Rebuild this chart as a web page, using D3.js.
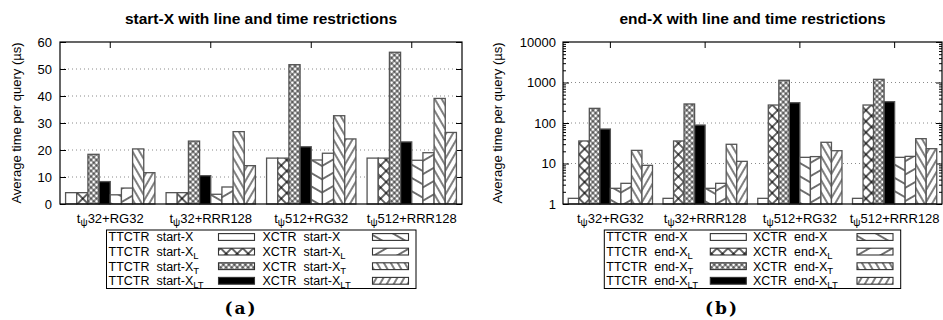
<!DOCTYPE html>
<html>
<head>
<meta charset="utf-8">
<script src="https://cdn.jsdelivr.net/npm/d3@7"></script>
<style>
  body { margin: 0; background: #fff; }
  svg { display: block; font-family: "Liberation Sans", Arial, Helvetica, sans-serif; }
</style>
</head>
<body>
<svg id="chart" width="943" height="320"></svg>
<script>
// Query configurations (x groups); the character after "t" is set as a subscript
const categories = ["tψ32+RG32", "tψ32+RRR128", "tψ512+RG32", "tψ512+RRR128"];

// Series names; text after "_" is set as a subscript
const startSeries = [
  "TTCTR  start-X", "TTCTR  start-X_L", "TTCTR  start-X_T", "TTCTR  start-X_LT",
  "XCTR  start-X", "XCTR  start-X_L", "XCTR  start-X_T", "XCTR  start-X_LT"
];
const endSeries = [
  "TTCTR  end-X", "TTCTR  end-X_L", "TTCTR  end-X_T", "TTCTR  end-X_LT",
  "XCTR  end-X", "XCTR  end-X_L", "XCTR  end-X_T", "XCTR  end-X_LT"
];

// Average time per query (µs), one array per series, one value per category
const startTTCTR   = [4.2, 4.2, 17.0, 17.0];
const startTTCTR_L = [4.2, 4.2, 17.0, 17.0];
const startTTCTR_T = [18.4, 23.3, 51.6, 56.2];
const startTTCTR_LT = [8.3, 10.5, 21.2, 23.0];
const startXCTR    = [3.4, 3.6, 16.3, 16.2];
const startXCTR_L  = [5.9, 6.3, 18.8, 19.0];
const startXCTR_T  = [20.4, 26.8, 32.7, 39.1];
const startXCTR_LT = [11.6, 14.2, 24.1, 26.5];

const endTTCTR    = [1.38, 1.38, 1.38, 1.38];
const endTTCTR_L  = [36, 36, 278, 278];
const endTTCTR_T  = [230, 295, 1133, 1198];
const endTTCTR_LT = [71, 89, 317, 336];
const endXCTR     = [2.44, 2.44, 14.2, 14.2];
const endXCTR_L   = [3.24, 3.24, 14.8, 15.0];
const endXCTR_T   = [21.1, 29.8, 33.4, 41.0];
const endXCTR_LT  = [9.0, 11.3, 20.7, 23.2];

const startValues = [startTTCTR, startTTCTR_L, startTTCTR_T, startTTCTR_LT,
                     startXCTR, startXCTR_L, startXCTR_T, startXCTR_LT];
const endValues = [endTTCTR, endTTCTR_L, endTTCTR_T, endTTCTR_LT,
                   endXCTR, endXCTR_L, endXCTR_T, endXCTR_LT];

// Axis ticks
const startTicks = [0, 10, 20, 30, 40, 50, 60];
const endTicks = [1, 10, 100, 1000, 10000];

const svg = d3.select("#chart");
const defs = svg.append("defs");

// Hatch fills: stripes (or cross-hatch) of a given spacing, rotated
function hatch(id, spacing, angle, cross, sw) {
  const p = defs.append("pattern")
    .attr("id", id)
    .attr("patternUnits", "userSpaceOnUse")
    .attr("width", spacing).attr("height", spacing)
    .attr("patternTransform", `rotate(${angle})`);
  p.append("rect").attr("width", spacing).attr("height", spacing).attr("fill", "#fff");
  p.append("path").attr("d", `M0,${spacing / 2}H${spacing}`)
    .attr("stroke", "#000").attr("stroke-width", sw);
  if (cross) {
    p.append("path").attr("d", `M${spacing / 2},0V${spacing}`)
      .attr("stroke", "#000").attr("stroke-width", sw);
  }
}
hatch("pat1", 7.8, 45, true, 1.2);
hatch("pat2", 3.9, 45, true, 0.8);
hatch("pat4", 11.5, 30, false, 1.1);
hatch("pat5", 11.5, -30, false, 1.1);
hatch("pat6", 6.0, 60, false, 1.0);
hatch("pat7", 6.0, -60, false, 1.0);

const fills = ["#fff", "url(#pat1)", "url(#pat2)", "#000",
               "url(#pat4)", "url(#pat5)", "url(#pat6)", "url(#pat7)"];

function richText(sel, str, subSize, subDy) {
  // splits "main_sub" into a baseline part and a subscript part
  const [main, sub] = str.split("_");
  sel.append("tspan").text(main);
  if (sub) sel.append("tspan").attr("font-size", subSize).attr("dy", subDy).text(sub);
}

function panel(cfg) {
  const g = svg.append("g");
  const { left, right, top, bottom } = cfg;

  const x0 = d3.scaleBand().domain(categories).range([left, right])
    .paddingInner(1 / 9).paddingOuter(1 / 18);
  const x1 = d3.scaleBand().domain(d3.range(cfg.series.length)).range([0, x0.bandwidth()]);
  const y = cfg.log
    ? d3.scaleLog().domain([endTicks[0], endTicks[endTicks.length - 1]]).range([bottom, top])
    : d3.scaleLinear().domain([startTicks[0], startTicks[startTicks.length - 1]]).range([bottom, top]);
  const base = y.domain()[0];

  // dotted grid
  g.append("g").selectAll("line")
    .data(cfg.ticks.slice(1, -1))
    .join("line")
    .attr("x1", left).attr("x2", right)
    .attr("y1", d => y(d)).attr("y2", d => y(d))
    .attr("stroke", "#8a8a8a").attr("stroke-width", 1)
    .attr("stroke-dasharray", "1,3");

  // y axis, inward ticks
  let tickVals = cfg.ticks;
  if (cfg.log) {
    tickVals = [];
    cfg.ticks.forEach((t, i) => {
      tickVals.push(t);
      if (i < cfg.ticks.length - 1) for (let k = 2; k <= 9; k++) tickVals.push(t * k);
    });
  }
  const isMajor = d => cfg.ticks.includes(d);
  const yAxisL = d3.axisLeft(y).tickValues(tickVals).tickSize(-6).tickPadding(cfg.labelPad)
    .tickFormat(d => isMajor(d) ? String(d) : "");
  const gl = g.append("g").attr("transform", `translate(${left},0)`).call(yAxisL);
  const yAxisR = d3.axisRight(y).tickValues(tickVals).tickSize(-6).tickFormat("");
  const gr = g.append("g").attr("transform", `translate(${right},0)`).call(yAxisR);
  [gl, gr].forEach(a => {
    a.select(".domain").remove();
    a.selectAll(".tick line").attr("stroke", "#000")
      .filter(d => !isMajor(d)).attr("x2", function () { return +d3.select(this).attr("x2") / 2; });
    a.selectAll("text").attr("font-size", 13).attr("fill", "#000")
      .attr("font-family", "Liberation Sans, Arial, sans-serif");
  });

  // x axes: mirrored inward ticks at group centres
  const xTop = d3.axisTop(x0).tickSize(-6).tickFormat("");
  const gt = g.append("g").attr("transform", `translate(0,${top})`).call(xTop);
  gt.select(".domain").remove();
  gt.selectAll(".tick line").attr("stroke", "#000");
  const xBot = d3.axisBottom(x0).tickSize(-6).tickFormat("");
  const gb = g.append("g").attr("transform", `translate(0,${bottom})`).call(xBot);
  gb.select(".domain").remove();
  gb.selectAll(".tick line").attr("stroke", "#000");

  // group labels with subscript ψ
  g.append("g").selectAll("text")
    .data(categories)
    .join("text")
    .attr("x", d => x0(d) + x0.bandwidth() / 2)
    .attr("y", bottom + 19)
    .attr("text-anchor", "middle")
    .attr("font-size", 13)
    .each(function (d) {
      const t = d3.select(this);
      t.append("tspan").text(d.slice(0, 1));
      t.append("tspan").attr("font-size", 10).attr("dy", 3).text(d.slice(1, 2));
      t.append("tspan").attr("dy", -3).text(d.slice(2));
    });

  // bars
  cfg.series.forEach((name, si) => {
    g.append("g").selectAll("rect")
      .data(cfg.values[si].map((v, ci) => ({ v, c: categories[ci] })))
      .join("rect")
      .attr("x", d => x0(d.c) + x1(si))
      .attr("width", x1.bandwidth())
      .attr("y", d => y(d.v))
      .attr("height", d => y(base) - y(d.v))
      .attr("fill", fills[si])
      .attr("stroke", "#555")
      .attr("stroke-width", 1.3);
  });

  // frame
  g.append("rect")
    .attr("x", left).attr("y", top)
    .attr("width", right - left).attr("height", bottom - top)
    .attr("fill", "none").attr("stroke", "#000").attr("stroke-width", 1.2);

  // title
  g.append("text")
    .attr("x", (left + right) / 2).attr("y", 24)
    .attr("text-anchor", "middle")
    .attr("font-size", 15.5).attr("font-weight", "bold")
    .text(cfg.title);

  // y label
  g.append("text")
    .attr("transform", `translate(${cfg.yLabelX},${(top + bottom) / 2}) rotate(-90)`)
    .attr("text-anchor", "middle")
    .attr("font-size", 13)
    .text("Average time per query (µs)");

  // legend
  const L = cfg.legend;
  g.append("rect")
    .attr("x", L.x).attr("y", L.y).attr("width", L.w).attr("height", L.h)
    .attr("fill", "#fff").attr("stroke", "#000").attr("stroke-width", 1);
  cfg.series.forEach((name, si) => {
    const col = Math.floor(si / 4), row = si % 4;
    const cy = L.y + 7 + row * 14.6;
    const tx = L.x + 2 + col * L.colW;
    const t = g.append("text")
      .attr("x", tx).attr("y", cy + 4.4)
      .attr("font-size", 12.5)
      .style("white-space", "pre");
    richText(t, name, 9.5, 3);
    g.append("rect")
      .attr("x", tx + L.sampleOff).attr("y", cy - 3.4)
      .attr("width", 36).attr("height", 6.8)
      .attr("fill", fills[si])
      .attr("stroke", "#333").attr("stroke-width", 1.1);
  });

  // sub-figure tag
  g.append("text")
    .attr("x", cfg.tagX).attr("y", 314)
    .attr("text-anchor", "middle")
    .attr("font-family", "DejaVu Serif, serif")
    .attr("font-weight", "bold")
    .attr("font-size", 17)
    .attr("letter-spacing", 2)
    .text(cfg.tag);
}

panel({
  left: 60, right: 462, top: 42, bottom: 204,
  series: startSeries, values: startValues, ticks: startTicks, log: false,
  labelPad: 8, yLabelX: 21,
  title: "start-X with line and time restrictions",
  legend: { x: 106.5, y: 230, w: 309.5, h: 58.5, colW: 154, sampleOff: 110 },
  tag: "(a)", tagX: 241
});

panel({
  left: 563, right: 942, top: 42, bottom: 204,
  series: endSeries, values: endValues, ticks: endTicks, log: true,
  labelPad: 7, yLabelX: 502,
  title: "end-X with line and time restrictions",
  legend: { x: 604.3, y: 230, w: 296.4, h: 58.5, colW: 146.7, sampleOff: 104 },
  tag: "(b)", tagX: 722
});
</script>
</body>
</html>
